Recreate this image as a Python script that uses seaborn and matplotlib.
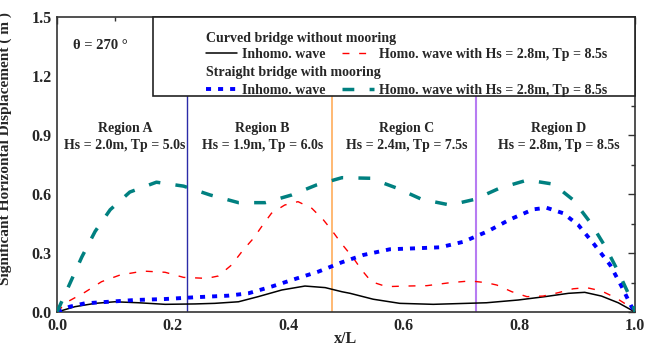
import numpy as np
import pandas as pd
import matplotlib
matplotlib.use("Agg")
import matplotlib.pyplot as plt
from matplotlib.lines import Line2D
from matplotlib.patches import Rectangle
import seaborn as sns

# ---- data -------------------------------------------------------------
x_curved_inhomo = [0, 0.031, 0.066, 0.1, 0.141, 0.187, 0.239, 0.273, 0.314, 0.348,
                   0.389, 0.429, 0.464, 0.493, 0.507, 0.547, 0.593, 0.651, 0.709,
                   0.743, 0.798, 0.844, 0.885, 0.913, 0.942, 0.971, 1.0]
y_curved_inhomo = [0, 0.027, 0.044, 0.052, 0.047, 0.039, 0.041, 0.044, 0.052, 0.078,
                   0.112, 0.132, 0.124, 0.103, 0.095, 0.065, 0.044, 0.039, 0.044,
                   0.047, 0.061, 0.078, 0.095, 0.100, 0.081, 0.047, 0.0]

x_curved_homo = [0, 0.017, 0.048, 0.077, 0.109, 0.149, 0.187, 0.219, 0.259, 0.279,
                 0.302, 0.322, 0.34, 0.354, 0.371, 0.394, 0.417, 0.441, 0.461, 0.475,
                 0.493, 0.513, 0.527, 0.544, 0.57, 0.605, 0.64, 0.68, 0.715, 0.743,
                 0.761, 0.787, 0.813, 0.841, 0.867, 0.893, 0.916, 0.942, 0.968, 0.991, 1.0]
y_curved_homo = [0, 0.05, 0.10, 0.154, 0.188, 0.208, 0.202, 0.176, 0.171, 0.183,
                 0.239, 0.315, 0.375, 0.434, 0.502, 0.544, 0.561, 0.527, 0.468, 0.417,
                 0.345, 0.273, 0.214, 0.154, 0.129, 0.132, 0.134, 0.149, 0.158, 0.149,
                 0.137, 0.103, 0.078, 0.081, 0.098, 0.118, 0.124, 0.107, 0.07, 0.027, 0.0]

x_straight_inhomo = [0, 0.022, 0.048, 0.089, 0.135, 0.187, 0.239, 0.296, 0.331, 0.371,
                     0.412, 0.452, 0.493, 0.53, 0.576, 0.622, 0.663, 0.703, 0.745,
                     0.784, 0.824, 0.847, 0.876, 0.902, 0.928, 0.957, 0.977, 0.994, 1.0]
y_straight_inhomo = [0, 0.027, 0.044, 0.052, 0.061, 0.066, 0.075, 0.083, 0.095, 0.129,
                     0.168, 0.205, 0.253, 0.29, 0.319, 0.324, 0.329, 0.357, 0.41,
                     0.471, 0.522, 0.53, 0.502, 0.442, 0.349, 0.239, 0.129, 0.027, 0.0]

x_straight_homo = [0, 0.02, 0.043, 0.066, 0.092, 0.126, 0.172, 0.219, 0.265, 0.314,
                   0.36, 0.406, 0.449, 0.493, 0.542, 0.588, 0.631, 0.68, 0.723, 0.766,
                   0.814, 0.859, 0.893, 0.924, 0.949, 0.971, 0.991, 1.0]
y_straight_homo = [0, 0.13, 0.28, 0.41, 0.52, 0.61, 0.66, 0.64, 0.595, 0.556,
                   0.556, 0.595, 0.646, 0.683, 0.68, 0.63, 0.573, 0.544, 0.573, 0.63,
                   0.671, 0.65, 0.57, 0.45, 0.33, 0.205, 0.078, 0.0]

region_edges = [0.0, 0.225, 0.475, 0.725, 1.0]
region_line_colors = ["#2B2BA8", "#FFA64D", "#B77CF2"]
region_names = ["Region A", "Region B", "Region C", "Region D"]
region_hs = [2.0, 1.9, 2.4, 2.8]
region_tp = [5.0, 6.0, 7.5, 8.5]

x_ticks = [0.0, 0.2, 0.4, 0.6, 0.8, 1.0]
y_ticks = [0.0, 0.3, 0.6, 0.9, 1.2, 1.5]

# ---- style ------------------------------------------------------------
sns.set_theme(style="white")
plt.rcParams["font.family"] = ["Liberation Serif", "DejaVu Serif"]
plt.rcParams["font.weight"] = "bold"
plt.rcParams["axes.labelweight"] = "bold"

TXT = 10  # annotation / legend text size

fig = plt.figure(figsize=(6.46, 3.49), dpi=100)
ax = fig.add_axes([57 / 646, 1 - 312 / 349, 578 / 646, 295 / 349])

# region separators
for xb, c, w in zip(region_edges[1:-1], region_line_colors, [1.0, 1.1, 1.5]):
    ax.axvline(xb, color=c, lw=w, zorder=1)

series = [
    (x_curved_inhomo, y_curved_inhomo, "black", 1.1, "-", "Inhomo. wave"),
    (x_curved_homo, y_curved_homo, "#FF0000", 1.0, (0, (5, 7)),
     "Homo. wave with Hs = 2.8m, Tp = 8.5s"),
    (x_straight_inhomo, y_straight_inhomo, "#0000FF", 2.8, (0, (1.3, 1.8)), "Inhomo. wave"),
    (x_straight_homo, y_straight_homo, "#008080", 2.5, (0, (3.4, 4.4)),
     "Homo. wave with Hs = 2.8m, Tp = 8.5s"),
]
handles = []
for xs, ys, col, lw, ls, lab in series:
    df = pd.DataFrame({"x": xs, "y": ys})
    sns.lineplot(data=df, x="x", y="y", ax=ax, color=col, lw=lw, linestyle=ls,
                 solid_capstyle="butt", dash_capstyle="butt", zorder=3, legend=False)
    handles.append(Line2D([], [], color=col, lw=lw, linestyle=ls,
                          dash_capstyle="butt", label=lab))

ax.set_xlim(0, 1)
ax.set_ylim(0, 1.5)
ax.set_xticks(x_ticks)
ax.set_xticklabels([f"{v:.1f}" for v in x_ticks])
ax.set_yticks(y_ticks)
ax.set_yticklabels([f"{v:.1f}" for v in y_ticks])
ax.set_xticks(np.array(x_ticks[:-1]) + 0.1, minor=True)
ax.set_yticks(np.array(y_ticks[:-1]) + 0.15, minor=True)
ax.tick_params(which="both", direction="in", top=True, right=True, color="#333333")
ax.tick_params(which="major", length=5, width=1, labelsize=11.5, pad=4)
ax.tick_params(which="minor", length=3, width=1)
for s in ax.spines.values():
    s.set_color("#333333")
    s.set_linewidth(1.2)

ax.set_xlabel("x/L", fontsize=11.5, fontweight="bold")
ax.set_ylabel("Significant Horizontal Displacement ( m )", fontsize=11.1, fontweight="bold")
ax.xaxis.set_label_coords(0.5, -0.064)
ax.yaxis.set_label_coords(-0.077, 0.555)

# region annotations
for i, name in enumerate(region_names):
    xc = 0.5 * (region_edges[i] + region_edges[i + 1]) + 0.005
    ax.text(xc, 0.935, name, ha="center", va="center", fontsize=TXT, fontweight="bold")
    ax.text(xc, 0.845, f"Hs = {region_hs[i]:.1f}m, Tp = {region_tp[i]:.1f}s",
            ha="center", va="center", fontsize=TXT, fontweight="bold")

ax.text(0.028, 1.357, "θ = 270 °", ha="left", va="center", fontsize=10.5, fontweight="bold")

# legend block
ax.add_patch(Rectangle((0.166, 0.732), 0.834, 0.268, transform=ax.transAxes,
                       facecolor="white", edgecolor="#222222", lw=1.2, zorder=4,
                       clip_on=False))
blank = Line2D([], [], linestyle="none", label=" ")
leg_handles = [blank, handles[0], blank, handles[2], blank, handles[1], blank, handles[3]]
leg = ax.legend(handles=leg_handles, labels=[h.get_label() for h in leg_handles],
                ncol=2, loc="upper left", bbox_to_anchor=(0.258, 0.955),
                frameon=False, fontsize=TXT, borderpad=0, borderaxespad=0,
                labelspacing=0.36, handlelength=2.25, handletextpad=0.35,
                columnspacing=1.2)
leg.set_zorder(5)
ax.text(0.258, 0.927, "Curved bridge without mooring", transform=ax.transAxes,
        ha="left", va="center", fontsize=TXT, fontweight="bold", zorder=6)
ax.text(0.258, 0.811, "Straight bridge with mooring", transform=ax.transAxes,
        ha="left", va="center", fontsize=TXT, fontweight="bold", zorder=6)

fig.savefig("out.png", dpi=100)
